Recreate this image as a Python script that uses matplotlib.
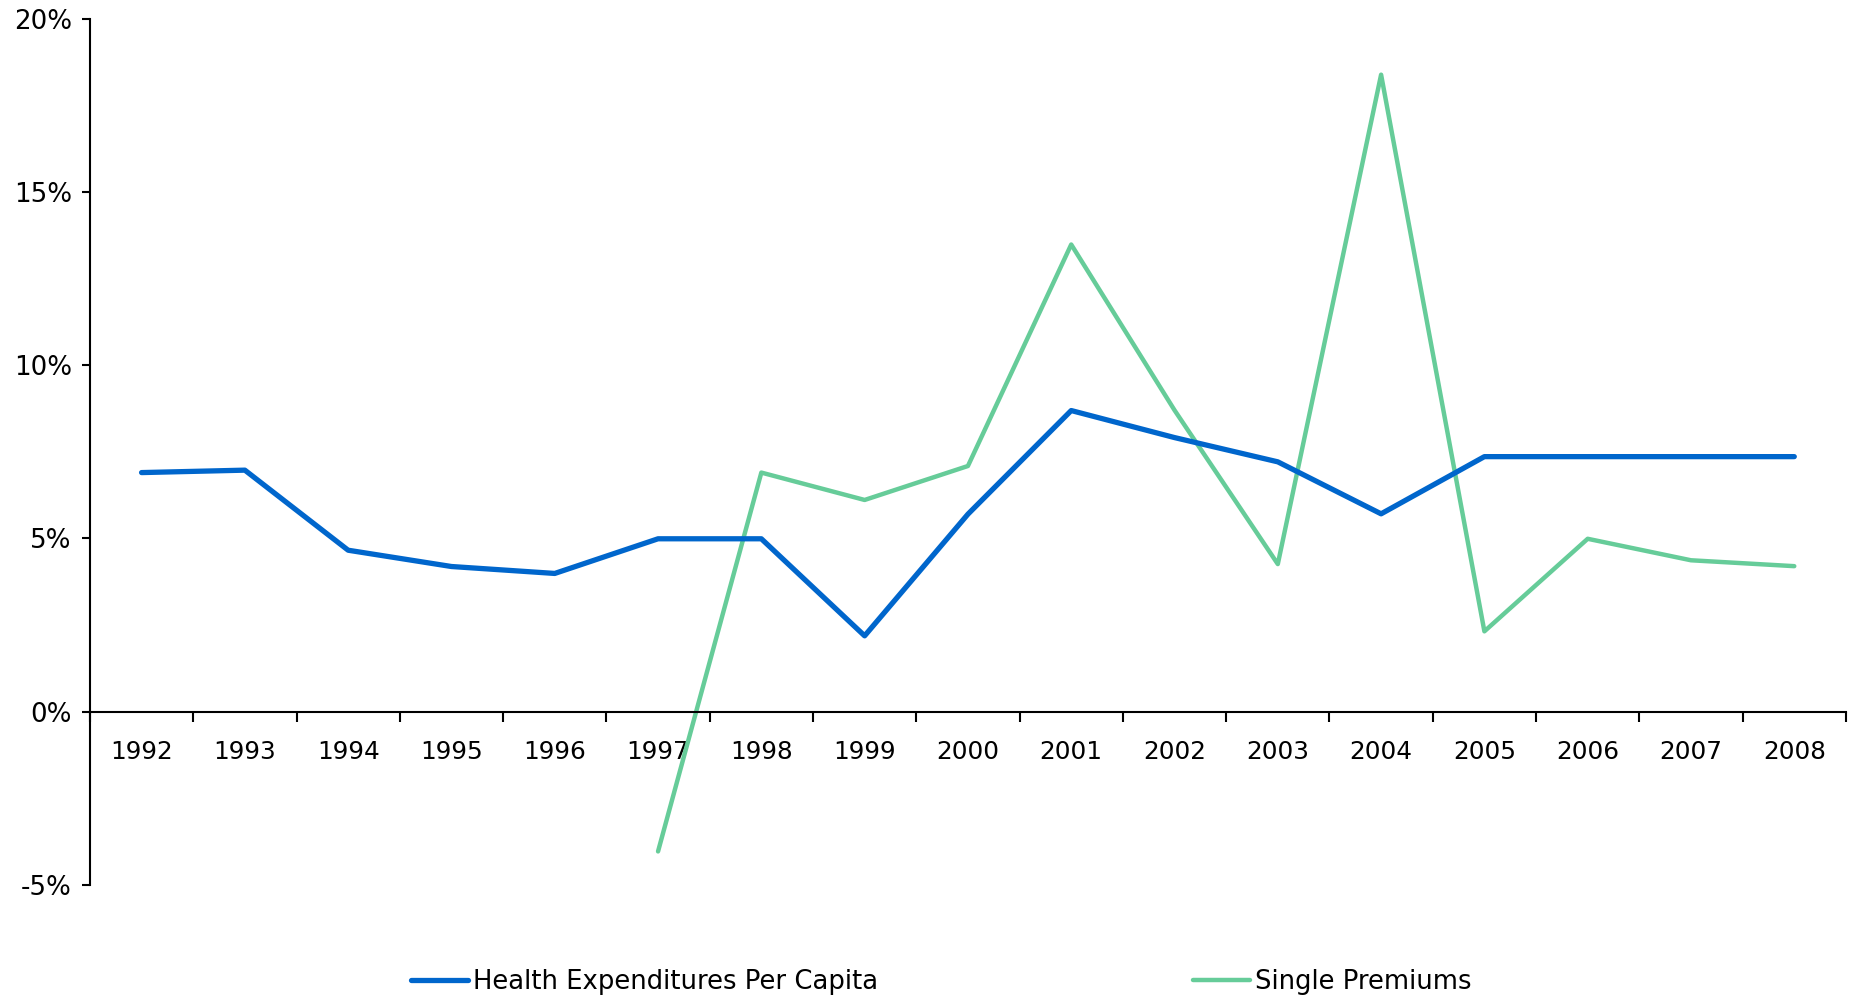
import numpy as np
import matplotlib
matplotlib.use("Agg")
import matplotlib.pyplot as plt

years = ["1992", "1993", "1994", "1995", "1996", "1997", "1998", "1999", "2000",
         "2001", "2002", "2003", "2004", "2005", "2006", "2007", "2008"]
health_per_capita = [6.90, 6.97, 4.66, 4.19, 3.99, 4.99, 4.99, 2.19, 5.70,
                     8.69, 7.91, 7.21, 5.71, 7.36, 7.36, 7.36, 7.36]
single_premiums = [np.nan, np.nan, np.nan, np.nan, np.nan, -4.03, 6.90, 6.11, 7.09,
                   13.48, 8.70, 4.26, 18.38, 2.32, 4.99, 4.37, 4.20]
y_ticks = [-5, 0, 5, 10, 15, 20]
y_labels = ["-5%", "0%", "5%", "10%", "15%", "20%"]

plt.rcParams["font.family"] = ["DejaVu Sans"]

fig = plt.figure(figsize=(18.58, 9.96), dpi=100)
ax = fig.add_axes([0.0484, 0.1114, 0.9451, 0.8700])

x = np.arange(len(years))
ax.plot(x, health_per_capita, color="#0066CC", lw=3.8, solid_capstyle="round",
        solid_joinstyle="round", label="Health Expenditures Per Capita", zorder=3)
ax.plot(x, single_premiums, color="#66CC99", lw=3.2, solid_capstyle="round",
        solid_joinstyle="round", label="Single Premiums", zorder=2)

ax.set_xlim(-0.5, len(years) - 0.5)
ax.set_ylim(-5, 20)

for s in ["top", "right"]:
    ax.spines[s].set_visible(False)
ax.spines["bottom"].set_position(("data", 0))
ax.spines["left"].set_linewidth(1.5)
ax.spines["bottom"].set_linewidth(1.5)

# ticks on category boundaries, labels on centers
ax.set_xticks(np.arange(-0.5, len(years)), labels=[""] * (len(years) + 1))
ax.set_xticks(x, labels=years, minor=True)
ax.tick_params(axis="x", which="major", direction="out", length=7, width=1.5)
ax.tick_params(axis="x", which="minor", length=0, pad=20, labelsize=17.8)

ax.set_yticks(y_ticks, labels=y_labels)
ax.tick_params(axis="y", direction="out", length=6, width=1.5, pad=7, labelsize=18.8)

fig.legend(loc="center left", bbox_to_anchor=(0.2212, 1 - 982 / 996), ncol=2,
           frameon=False, fontsize=18.6, handlelength=2.2, handletextpad=0.2,
           columnspacing=12.2, borderpad=0, borderaxespad=0)

fig.savefig("out.png", dpi=100)
